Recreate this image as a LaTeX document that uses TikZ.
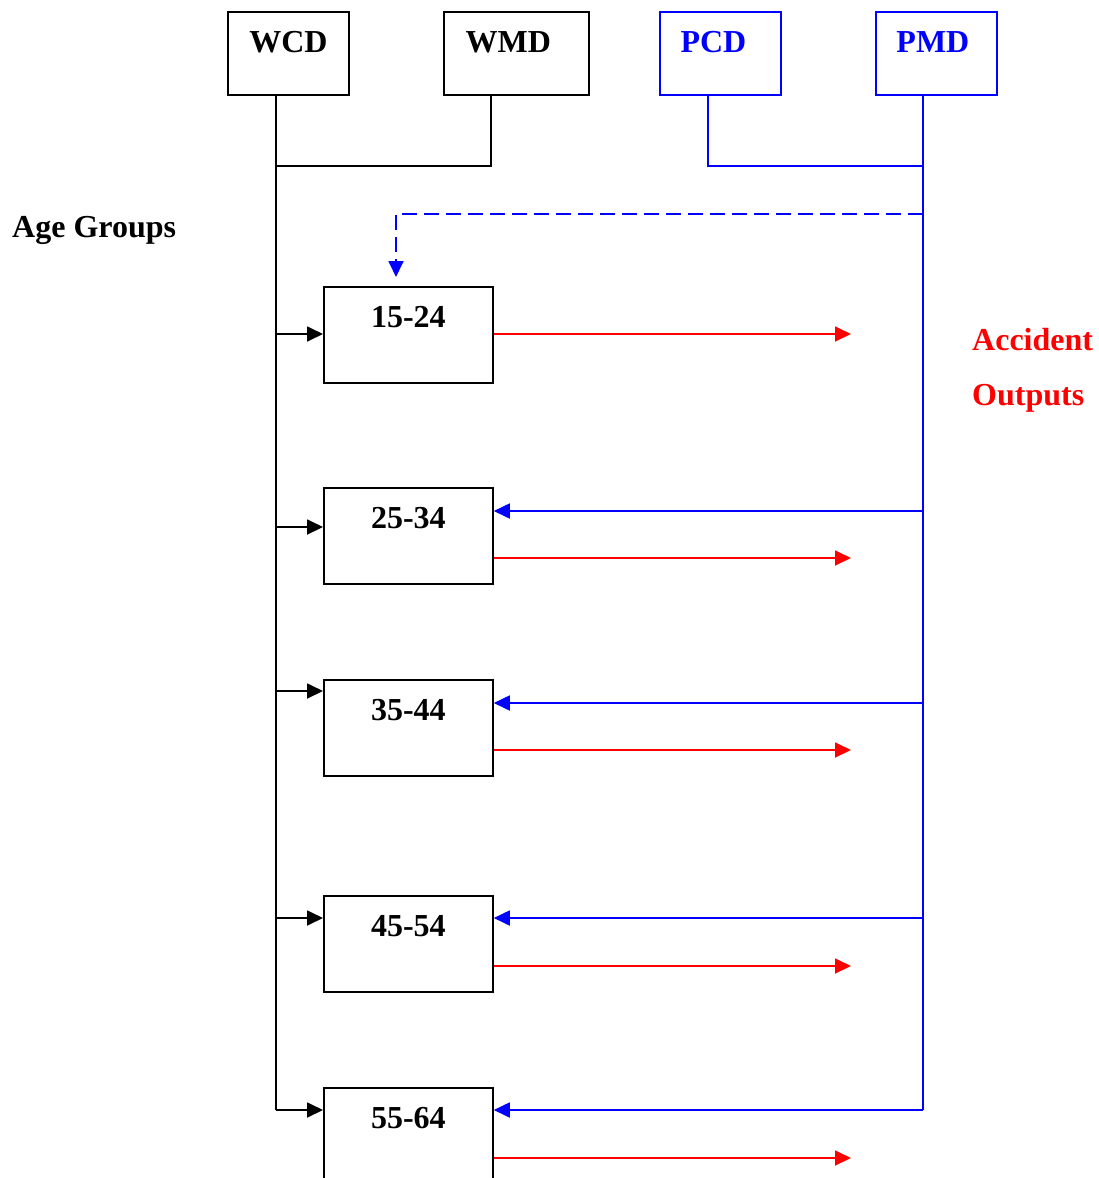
\documentclass[tikz,border=0pt]{standalone}
\usepackage{fontspec}
\setmainfont{Liberation Serif}
\usetikzlibrary{arrows.meta}
\definecolor{pblue}{RGB}{0,0,255}
\definecolor{pred}{RGB}{255,0,0}
\begin{document}
\begin{tikzpicture}[x=1pt,y=-1pt,
  every node/.style={font=\fontsize{32}{38}\selectfont\bfseries},
  topbox/.style={draw,line width=1.8pt,inner sep=0pt,minimum width=121pt,text height=41pt,text depth=42pt,anchor=north west},
  agebox/.style={draw,line width=1.8pt,inner sep=0pt,minimum width=169pt,text height=41pt,text depth=55pt,anchor=north west},
  conn/.style={line width=1.8pt},
  tip/.style={-{Triangle[length=16pt,width=15pt]}},
  blueline/.style={conn,pblue},
  redline/.style={conn,pred},
  lbl/.style={anchor=base west,inner sep=0pt}]
\useasboundingbox (0,0) rectangle (1098,1178);
\fill[white] (0,0) rectangle (1098,1178);
% top boxes
\node[topbox] (wcd) at (227,11) {WCD};
\node[topbox,minimum width=145pt] (wmd) at (443,11) {WMD\kern16pt\relax};
\node[topbox,pblue] (pcd) at (659,11) {PCD\kern14pt\relax};
\node[topbox,pblue] (pmd) at (875,11) {PMD\kern7pt\relax};
% age boxes
\node[agebox] (g1) at (323,286) {15-24};
\node[agebox] (g2) at (323,487) {25-34};
\node[agebox] (g3) at (323,679) {35-44};
\node[agebox] (g4) at (323,895) {45-54};
\node[agebox] (g5) at (323,1087) {55-64};
% labels
\node[lbl] (age) at (12,237) {Age Groups};
\node[lbl,pred] (acc) at (972,350) {Accident};
\node[lbl,pred] (out) at (972,405) {Outputs};
% black bus
\coordinate (bw) at (276,1110);
\coordinate (bj) at (276,166);
\draw[conn] (wcd.south -| bw) -- (bw);
\draw[conn] (wmd.south -| 491,0) -- (491,166) -- (bj);
\draw[conn,tip] (276,334) -- (g1.west |- 0,334);
\draw[conn,tip] (276,527) -- (g2.west |- 0,527);
\draw[conn,tip] (276,691) -- (g3.west |- 0,691);
\draw[conn,tip] (276,918) -- (g4.west |- 0,918);
\draw[conn,tip] (bw) -- (g5.west |- bw);
% blue bus
\coordinate (pb) at (923,1110);
\draw[blueline] (pmd.south -| pb) -- (pb);
\draw[blueline] (pcd.south -| 708,0) -- (708,166) -- (923,166);
\draw[blueline,dash pattern=on 15pt off 7pt,tip] (923,214) -- (396,214) -- (396,277);
\draw[blueline,tip] (923,511) -- (g2.east |- 0,511);
\draw[blueline,tip] (923,703) -- (g3.east |- 0,703);
\draw[blueline,tip] (923,918) -- (g4.east |- 0,918);
\draw[blueline,tip] (pb) -- (g5.east |- pb);
% red outputs
\draw[redline,tip] (g1.east |- 0,334) -- (851,334);
\draw[redline,tip] (g2.east |- 0,558) -- (851,558);
\draw[redline,tip] (g3.east |- 0,750) -- (851,750);
\draw[redline,tip] (g4.east |- 0,966) -- (851,966);
\draw[redline,tip] (g5.east |- 0,1158) -- (851,1158);
\end{tikzpicture}
\end{document}
